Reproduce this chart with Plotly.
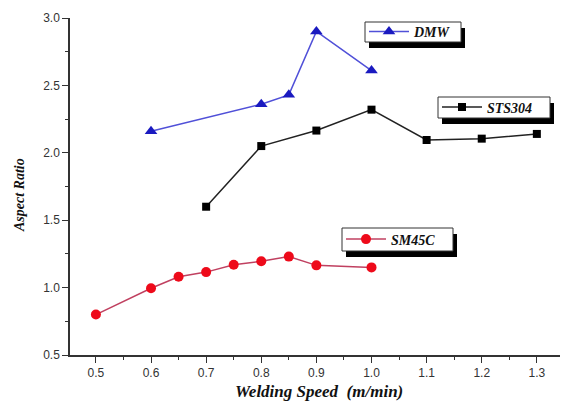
import plotly.graph_objects as go

# ---- data ----
dmw_x = [0.6, 0.8, 0.85, 0.9, 1.0]
dmw_y = [2.16, 2.36, 2.43, 2.90, 2.61]

sts_x = [0.7, 0.8, 0.9, 1.0, 1.1, 1.2, 1.3]
sts_y = [1.60, 2.05, 2.165, 2.32, 2.095, 2.105, 2.14]

sm_x = [0.5, 0.6, 0.65, 0.7, 0.75, 0.8, 0.85, 0.9, 1.0]
sm_y = [0.80, 0.995, 1.08, 1.115, 1.17, 1.195, 1.23, 1.165, 1.15]

x_ticks = [0.5, 0.6, 0.7, 0.8, 0.9, 1.0, 1.1, 1.2, 1.3]
y_ticks = [0.5, 1.0, 1.5, 2.0, 2.5, 3.0]

W, H = 563, 408
L, R, T, B = 70, 3, 18, 53
PW, PH = W - L - R, H - T - B

def px(x):
    return (x - L) / PW

def py(y):
    return (H - B - y) / PH

fig = go.Figure()
fig.add_trace(go.Scatter(x=dmw_x, y=dmw_y, name="<b><i>DMW</i></b>", mode="lines+markers",
                         line=dict(color="#5050d8", width=1.5),
                         marker=dict(symbol="triangle-up", size=11, color="#1a1ac0"),
                         legend="legend"))
fig.add_trace(go.Scatter(x=sts_x, y=sts_y, name="<b><i>STS304</i></b>", mode="lines+markers",
                         line=dict(color="#222", width=1.5),
                         marker=dict(symbol="square", size=8, color="#000"),
                         legend="legend2"))
fig.add_trace(go.Scatter(x=sm_x, y=sm_y, name="<b><i>SM45C</i></b>", mode="lines+markers",
                         line=dict(color="#c04060", width=1.5),
                         marker=dict(symbol="circle", size=10, color="#ee0a1a"),
                         legend="legend3"))

# legend boxes with shadows (pixel boxes)
boxes = [(365, 22, 461, 42), (438, 97, 550, 118), (342, 228, 453, 251)]
shapes = []
for (x0, y0, x1, y1) in boxes:
    shapes.append(dict(type="rect", xref="paper", yref="paper",
                       x0=px(x0 + 4), x1=px(x1 + 4), y0=py(y1 + 6), y1=py(y0 + 6),
                       fillcolor="#000", line=dict(width=0), layer="above"))
    shapes.append(dict(type="rect", xref="paper", yref="paper",
                       x0=px(x0), x1=px(x1), y0=py(y1), y1=py(y0),
                       fillcolor="#fff", line=dict(color="#333", width=1), layer="above"))

leg_common = dict(bgcolor="rgba(0,0,0,0)", borderwidth=0, xanchor="left", yanchor="middle",
                  font=dict(family="Liberation Serif", size=14, color="#111"),
                  itemwidth=40, tracegroupgap=0)

annotations = [
    dict(text="<b><i>Welding Speed  (m/min)</i></b>", xref="paper", yref="paper",
         x=px(319), y=py(392), showarrow=False, xanchor="center", yanchor="middle",
         font=dict(family="Liberation Serif", size=17, color="#111")),
    dict(text="<b><i>Aspect Ratio</i></b>", xref="paper", yref="paper",
         x=px(19), y=py(195), showarrow=False, xanchor="center", yanchor="middle",
         textangle=-90, font=dict(family="Liberation Serif", size=14, color="#111")),
]

fig.update_layout(
    width=W, height=H,
    margin=dict(l=L, r=R, t=T, b=B, pad=0),
    paper_bgcolor="white", plot_bgcolor="white",
    showlegend=True,
    legend=dict(x=px(364), y=py(32), **leg_common),
    legend2=dict(x=px(437), y=py(107.5), **leg_common),
    legend3=dict(x=px(341), y=py(239.5), **leg_common),
    shapes=shapes,
    annotations=annotations,
    xaxis=dict(range=[0.453, 1.342], tickvals=x_ticks, ticktext=[f"{v:.1f}" for v in x_ticks],
               showgrid=False, zeroline=False, showline=True, linecolor="#333", linewidth=1.5,
               ticks="outside", ticklen=6, tickwidth=1.2, tickcolor="#333",
               tickfont=dict(family="Liberation Sans", size=12, color="#333"),
               minor=dict(tickvals=[0.55, 0.65, 0.75, 0.85, 0.95, 1.05, 1.15, 1.25],
                          ticks="outside", ticklen=3, tickcolor="#333")),
    yaxis=dict(range=[0.5, 3.0], tickvals=y_ticks, ticktext=[f"{v:.1f}" for v in y_ticks],
               showgrid=False, zeroline=False, showline=True, linecolor="#333", linewidth=1.5,
               ticks="outside", ticklen=6, tickwidth=1.2, tickcolor="#333",
               tickfont=dict(family="Liberation Sans", size=12, color="#333"),
               minor=dict(tickvals=[0.75, 1.25, 1.75, 2.25, 2.75],
                          ticks="outside", ticklen=3, tickcolor="#333")),
)

fig.write_html("out.html")
